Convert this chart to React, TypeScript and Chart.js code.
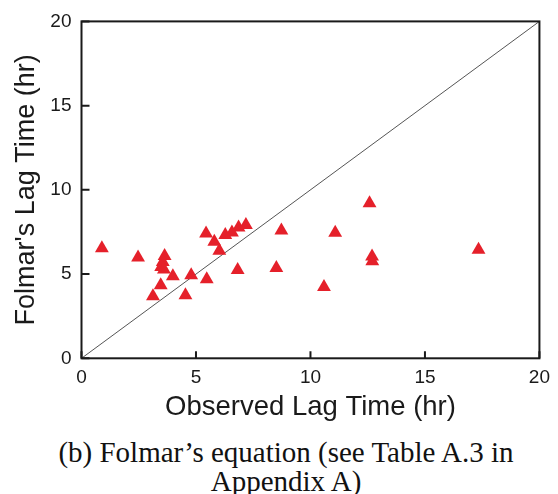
import { useEffect, useRef } from "react";
import { Chart, registerables } from "chart.js";

Chart.register(...registerables);

const observed = [0.89, 2.47, 3.63, 3.55, 3.48, 3.6, 3.99, 3.46, 3.12, 4.79, 4.54, 5.47, 5.44, 5.8, 6.02, 6.28, 6.57, 6.86, 7.18, 8.73, 6.82, 8.51, 12.58, 11.08, 12.69, 12.7, 10.59, 17.34];
const predicted = [6.54, 5.98, 6.07, 5.72, 5.42, 5.27, 4.87, 4.34, 3.69, 4.93, 3.75, 4.69, 7.41, 6.92, 6.39, 7.32, 7.47, 7.77, 7.91, 7.59, 5.24, 5.36, 9.21, 7.46, 6.05, 5.76, 4.24, 6.45];
const lineX = [0, 20];
const lineY = [0, 20];
const axisMin = 0;
const axisMax = 20;
const tickStep = 5;

const xTitle = "Observed Lag Time (hr)";
const yTitle = "Folmar's Lag Time (hr)";
const captionLines = ["(b) Folmar\u2019s equation (see Table A.3 in", "Appendix A)"];

const SANS = "'Liberation Sans', Arial, sans-serif";
const INK = "#1a1a1a";

const framePlugin = {
  id: "frameTicks",
  afterDraw(chart: any) {
    const { ctx, chartArea, scales } = chart;
    const { left, right, top, bottom } = chartArea;
    const xs = scales.x;
    const ys = scales.y;
    ctx.save();
    ctx.strokeStyle = INK;
    ctx.lineWidth = 2;
    ctx.strokeRect(left, top, right - left, bottom - top);
    ctx.beginPath();
    xs.ticks.forEach((t: any) => {
      const px = xs.getPixelForValue(t.value);
      ctx.moveTo(px, bottom);
      ctx.lineTo(px, bottom - 7);
    });
    ys.ticks.forEach((t: any) => {
      const py = ys.getPixelForValue(t.value);
      ctx.moveTo(left, py);
      ctx.lineTo(left + 8, py);
    });
    ctx.stroke();
    ctx.restore();
  },
};

export default function App() {
  const ref = useRef<HTMLCanvasElement | null>(null);

  useEffect(() => {
    if (!ref.current) return;
    const chart = new Chart(ref.current, {
      type: "scatter",
      data: {
        datasets: [
          {
            label: "data",
            data: observed.map((x, i) => ({ x, y: predicted[i] })),
            pointStyle: "triangle",
            pointRadius: 8,
            pointHoverRadius: 8,
            backgroundColor: "#e5202a",
            borderWidth: 0,
            borderColor: "#e5202a",
          },
          {
            label: "1:1",
            type: "line",
            data: lineX.map((x, i) => ({ x, y: lineY[i] })),
            borderColor: "#555555",
            borderWidth: 1,
            pointRadius: 0,
            fill: false,
          } as any,
        ],
      },
      options: {
        animation: false,
        responsive: false,
        layout: { padding: { left: 0, right: 17, top: 20, bottom: 0 } },
        plugins: {
          legend: { display: false },
          tooltip: { enabled: false },
        },
        scales: {
          x: {
            type: "linear",
            min: axisMin,
            max: axisMax,
            afterFit: (s: any) => {
              s.height = 71.7;
            },
            ticks: {
              stepSize: tickStep,
              color: INK,
              padding: 8,
              font: { family: SANS, size: 19 },
            },
            grid: { display: false, drawTicks: false },
            border: { display: false },
            title: {
              display: true,
              text: xTitle,
              color: INK,
              font: { family: SANS, size: 27.5 },
              padding: { top: 0, bottom: 6 },
            },
          },
          y: {
            type: "linear",
            min: axisMin,
            max: axisMax,
            afterFit: (s: any) => {
              s.width = 81.5;
            },
            ticks: {
              stepSize: tickStep,
              color: INK,
              padding: 10,
              font: { family: SANS, size: 19 },
            },
            grid: { display: false, drawTicks: false },
            border: { display: false },
            title: {
              display: true,
              text: yTitle,
              color: INK,
              font: { family: SANS, size: 27 },
              padding: { top: 10, bottom: 0 },
            },
          },
        },
      },
      plugins: [framePlugin],
    });
    return () => chart.destroy();
  }, []);

  return (
    <div style={{ position: "absolute", left: 0, top: 0, width: 558, height: 494, background: "#fff", overflow: "hidden" }}>
      <canvas ref={ref} width={558} height={430} style={{ position: "absolute", left: 0, top: 0, width: 558, height: 430 }} />
      <div
        style={{
          position: "absolute",
          left: 7,
          top: 438,
          width: 558,
          textAlign: "center",
          fontFamily: "'Liberation Serif', 'Times New Roman', serif",
          fontSize: 29,
          lineHeight: "28.5px",
          color: "#111",
        }}
      >
        {captionLines[0]}
        <br />
        {captionLines[1]}
      </div>
    </div>
  );
}
